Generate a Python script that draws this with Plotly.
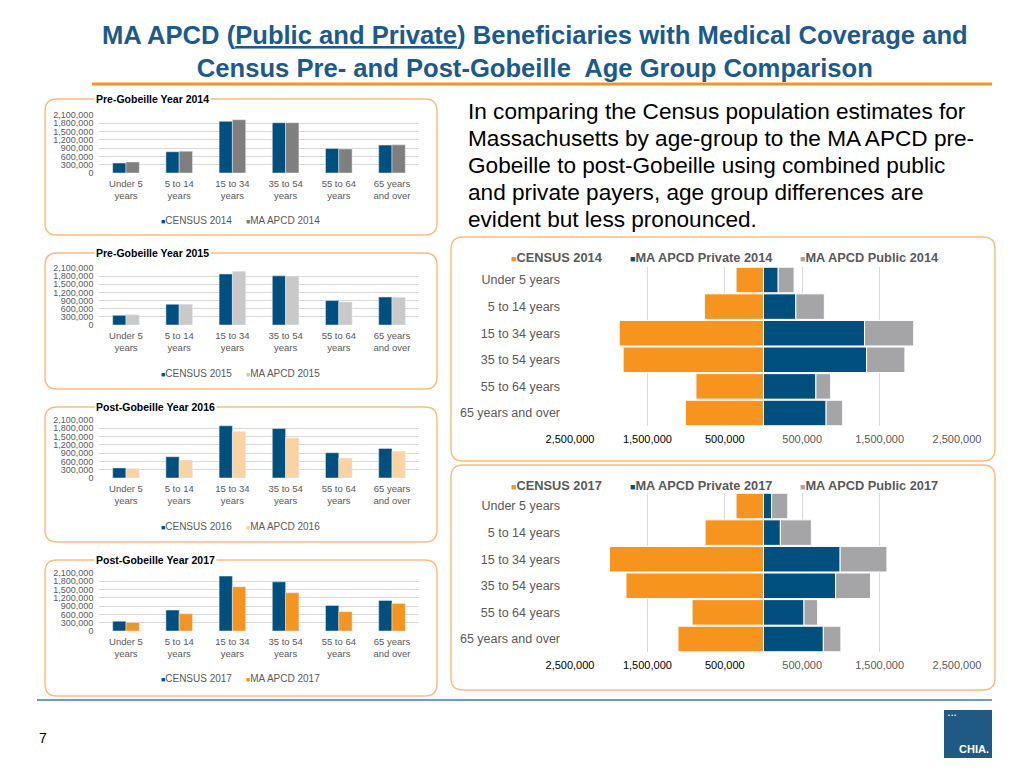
import plotly.graph_objects as go

W, H = 1024, 768
OFF = 8  # page body margin of the browser


def px(x):
    return (x - OFF) / W


def py(y):
    return 1 - (y - OFF) / H


# ---------------- data ----------------
age_groups = ["Under 5 years", "5 to 14 years", "15 to 34 years",
              "35 to 54 years", "55 to 64 years", "65 years and over"]
bar_tick_labels = ["Under 5<br>years", "5 to 14<br>years", "15 to 34<br>years",
                   "35 to 54<br>years", "55 to 64<br>years", "65 years<br>and over"]

census_2014 = [360000, 770000, 1870000, 1820000, 890000, 1010000]
apcd_2014 = [400000, 790000, 1930000, 1820000, 870000, 1020000]
census_2015 = [355000, 765000, 1880000, 1810000, 900000, 1030000]
apcd_2015 = [375000, 765000, 1980000, 1800000, 850000, 1020000]
census_2016 = [365000, 770000, 1890000, 1790000, 915000, 1070000]
apcd_2016 = [345000, 650000, 1680000, 1450000, 720000, 965000]
census_2017 = [355000, 757000, 1990000, 1780000, 925000, 1105000]
apcd_2017 = [312000, 625000, 1600000, 1385000, 700000, 1000000]

pyr_census_2014 = [355000, 764000, 1864000, 1814000, 873000, 1009000]
pyr_private_2014 = [190000, 418000, 1305000, 1332000, 677000, 809000]
pyr_public_2014 = [205000, 368000, 636000, 495000, 190000, 214000]
pyr_census_2017 = [355000, 755000, 1990000, 1777000, 923000, 1105000]
pyr_private_2017 = [105000, 218000, 990000, 932000, 523000, 773000]
pyr_public_2017 = [209000, 400000, 605000, 450000, 177000, 227000]

bar_yticks = [0, 300000, 600000, 900000, 1200000, 1500000, 1800000, 2100000]
pyr_left_ticks = [-2500000, -1500000, -500000]
pyr_right_ticks = [500000, 1500000, 2500000]
pyr_left_labels = ["2,500,000", "1,500,000", "500,000"]
pyr_right_labels = ["500,000", "1,500,000", "2,500,000"]

paragraph_lines = [
    "In comparing the Census population estimates for",
    "Massachusetts by age-group to the MA APCD pre-",
    "Gobeille to post-Gobeille using combined public",
    "and private payers, age group differences are",
    "evident but less pronounced.",
]

# ---------------- styles ----------------
FONT = "Arial, Liberation Sans, sans-serif"
BLUE = "#00507F"
ORANGE = "#F7941E"
GRAY_PUB = "#A5A5A7"
TXT_GRAY = "#595959"
GRID = "#D9D9D9"
BOX = "#F9BE7C"

fig = go.Figure()

small_charts = [
    dict(title="Pre-Gobeille Year 2014", census=census_2014, apcd=apcd_2014,
         cname="CENSUS 2014", aname="MA APCD 2014", acolor="#7F7F7F",
         y0=173, y1=115, box=(45, 99, 437, 235), ly=220),
    dict(title="Pre-Gobeille Year 2015", census=census_2015, apcd=apcd_2015,
         cname="CENSUS 2015", aname="MA APCD 2015", acolor="#C9C9C9",
         y0=325, y1=268, box=(45, 253, 437, 389), ly=373),
    dict(title="Post-Gobeille Year 2016", census=census_2016, apcd=apcd_2016,
         cname="CENSUS 2016", aname="MA APCD 2016", acolor="#FAD3A3",
         y0=478, y1=420, box=(45, 407, 437, 542), ly=526),
    dict(title="Post-Gobeille Year 2017", census=census_2017, apcd=apcd_2017,
         cname="CENSUS 2017", aname="MA APCD 2017", acolor=ORANGE,
         y0=631, y1=573, box=(45, 560, 437, 696), ly=678),
]

shapes = []
annotations = []


def rounded_box(x0, y0, x1, y1, r=12, color=BOX, width=1.5):
    X = lambda v: f"{px(v):.5f}"
    Y = lambda v: f"{py(v):.5f}"
    path = (f"M {X(x0 + r)},{Y(y0)} L {X(x1 - r)},{Y(y0)} Q {X(x1)},{Y(y0)} {X(x1)},{Y(y0 + r)} "
            f"L {X(x1)},{Y(y1 - r)} Q {X(x1)},{Y(y1)} {X(x1 - r)},{Y(y1)} "
            f"L {X(x0 + r)},{Y(y1)} Q {X(x0)},{Y(y1)} {X(x0)},{Y(y1 - r)} "
            f"L {X(x0)},{Y(y0 + r)} Q {X(x0)},{Y(y0)} {X(x0 + r)},{Y(y0)} Z")
    return dict(type="path", xref="paper", yref="paper", path=path,
                line=dict(color=color, width=width), fillcolor="rgba(0,0,0,0)", layer="below")


def legend_item(x, y, color, label, size, bold=False, sq=7):
    txt = f"<b>{label}</b>" if bold else label
    return dict(text=f'<span style="color:{color};font-size:{sq}px">■</span>{txt}',
                xref="paper", yref="paper", x=px(x), y=py(y), xanchor="left", yanchor="middle",
                showarrow=False, font=dict(size=size, color=TXT_GRAY, family=FONT))


layout_axes = {}
ax = 1
for i, c in enumerate(small_charts):
    xa = "x" if ax == 1 else f"x{ax}"
    ya = "y" if ax == 1 else f"y{ax}"
    fig.add_trace(go.Bar(x=age_groups, y=c["census"], name=c["cname"], marker_color=BLUE,
                         offset=-0.25, width=0.25, xaxis=xa, yaxis=ya, showlegend=False,
                         hoverinfo="skip"))
    fig.add_trace(go.Bar(x=age_groups, y=c["apcd"], name=c["aname"], marker_color=c["acolor"],
                         offset=0.0, width=0.25, xaxis=xa, yaxis=ya, showlegend=False,
                         hoverinfo="skip"))
    kx = "xaxis" if ax == 1 else f"xaxis{ax}"
    ky = "yaxis" if ax == 1 else f"yaxis{ax}"
    layout_axes[kx] = dict(domain=[px(99.4), px(418.6)], anchor=ya, type="category",
                           categoryarray=age_groups, tickvals=age_groups, ticktext=bar_tick_labels,
                           tickfont=dict(size=9.5, color=TXT_GRAY, family=FONT),
                           showgrid=False, showline=False, ticks="", zeroline=False,
                           automargin=False, ticklabelstandoff=3)
    layout_axes[ky] = dict(domain=[py(c["y0"]), py(c["y1"])], anchor=xa, range=[0, 2100000],
                           tickvals=bar_yticks, tickformat=",", showgrid=True, gridcolor=GRID,
                           gridwidth=1, zeroline=False, showline=False, ticks="",
                           tickfont=dict(size=9, color=TXT_GRAY, family=FONT),
                           automargin=False, ticklabelstandoff=5)
    annotations.append(legend_item(159, c["ly"], BLUE, c["cname"], 10, sq=7))
    annotations.append(legend_item(244, c["ly"], c["acolor"], c["aname"], 10, sq=7))
    shapes.append(rounded_box(*c["box"]))
    annotations.append(dict(text=f"<b>{c['title']}</b>", xref="paper", yref="paper",
                            x=px(94), y=py(c["box"][1]), xanchor="left", yanchor="middle",
                            showarrow=False, bgcolor="white", borderpad=1,
                            font=dict(size=10.5, color="black", family=FONT)))
    ax += 1

pyramids = [
    dict(census=pyr_census_2014, private=pyr_private_2014, public=pyr_public_2014, year="2014",
         top=266.7, bottom=426.3, box=(451, 237, 995, 461), ly=258),
    dict(census=pyr_census_2017, private=pyr_private_2017, public=pyr_public_2017, year="2017",
         top=492.7, bottom=652.3, box=(451, 465, 995, 690), ly=485),
]

for j, p in enumerate(pyramids):
    xa = f"x{ax}"
    ya = f"y{ax}"
    xa2 = f"x{ax + 1}"
    neg_census = [-v for v in p["census"]]
    fig.add_trace(go.Bar(y=age_groups, x=neg_census, orientation="h",
                         name=f"CENSUS {p['year']}", marker=dict(color=ORANGE, line=dict(color="white", width=1)),
                         width=0.96, xaxis=xa, yaxis=ya, showlegend=False, hoverinfo="skip"))
    fig.add_trace(go.Bar(y=age_groups, x=p["private"], orientation="h",
                         name=f"MA APCD Private {p['year']}", marker=dict(color=BLUE, line=dict(color="white", width=1)),
                         width=0.96, xaxis=xa2, yaxis=ya, showlegend=False, hoverinfo="skip"))
    fig.add_trace(go.Bar(y=age_groups, x=p["public"], base=p["private"], orientation="h",
                         name=f"MA APCD Public {p['year']}", marker=dict(color=GRAY_PUB, line=dict(color="white", width=1)),
                         width=0.96, xaxis=xa2, yaxis=ya, showlegend=False, hoverinfo="skip"))
    layout_axes[f"xaxis{ax}"] = dict(domain=[px(570), px(957)], anchor=ya, range=[-2500000, 2500000],
                                     tickvals=pyr_left_ticks, ticktext=pyr_left_labels,
                                     tickfont=dict(size=11, color="black", family=FONT),
                                     showgrid=True, gridcolor=GRID, zeroline=False, showline=False, ticks="",
                                     automargin=False, ticklabelstandoff=5)
    layout_axes[f"xaxis{ax + 1}"] = dict(domain=[px(570), px(957)], anchor=ya, overlaying=xa,
                                         range=[-2500000, 2500000], side="bottom",
                                         tickvals=pyr_right_ticks, ticktext=pyr_right_labels,
                                         tickfont=dict(size=11, color=TXT_GRAY, family=FONT),
                                         showgrid=True, gridcolor=GRID, zeroline=False, showline=False, ticks="",
                                         automargin=False, ticklabelstandoff=5)
    layout_axes[f"yaxis{ax}"] = dict(domain=[py(p["bottom"]), py(p["top"])], anchor=xa, type="category",
                                     categoryarray=age_groups, autorange="reversed",
                                     tickfont=dict(size=12.5, color=TXT_GRAY, family=FONT),
                                     showgrid=False, zeroline=False, showline=False, ticks="",
                                     automargin=False, ticklabelstandoff=9)
    annotations.append(legend_item(509, p["ly"], ORANGE, f"CENSUS {p['year']}", 12.8, bold=True, sq=9))
    annotations.append(legend_item(628, p["ly"], BLUE, f"MA APCD Private {p['year']}", 12.8, bold=True, sq=9))
    annotations.append(legend_item(798, p["ly"], GRAY_PUB, f"MA APCD Public {p['year']}", 12.8, bold=True, sq=9))
    shapes.append(rounded_box(*p["box"]))
    ax += 2

# title, separators, logo
shapes.append(dict(type="line", xref="paper", yref="paper", x0=px(92), x1=px(992), y0=py(84), y1=py(84),
                   line=dict(color=ORANGE, width=3)))
shapes.append(dict(type="line", xref="paper", yref="paper", x0=px(37), x1=px(992), y0=py(700), y1=py(700),
                   line=dict(color="#3B7DB5", width=1.5)))
shapes.append(dict(type="rect", xref="paper", yref="paper", x0=px(944), x1=px(992), y0=py(758), y1=py(710),
                   fillcolor="#1F5A85", line=dict(width=0)))

annotations.append(dict(
    text="<b>MA APCD (<u>Public and Private</u>) Beneficiaries with Medical Coverage and<br>"
         "Census Pre- and Post-Gobeille  Age Group Comparison</b>",
    xref="paper", yref="paper", x=px(535), y=py(51), xanchor="center", yanchor="middle",
    showarrow=False, align="center", font=dict(size=25.6, color="#1A5A8C", family=FONT)))
for k, line in enumerate(paragraph_lines):
    annotations.append(dict(
        text=line, xref="paper", yref="paper", x=px(466), y=py(112 + 26.8 * k),
        xanchor="left", yanchor="middle", showarrow=False, align="left",
        font=dict(size=22.6, color="black", family=FONT)))
annotations.append(dict(text="7", xref="paper", yref="paper", x=px(43), y=py(738), xanchor="center",
                        yanchor="middle", showarrow=False, font=dict(size=14, color="black", family=FONT)))
annotations.append(dict(text="<b>CHIA.</b>", xref="paper", yref="paper", x=px(991), y=py(749), xanchor="right",
                        yanchor="middle", showarrow=False, font=dict(size=11, color="white", family=FONT)))
annotations.append(dict(text="<b>• • •</b>", xref="paper", yref="paper", x=px(946), y=py(715), xanchor="left",
                        yanchor="middle", showarrow=False, font=dict(size=5, color="white", family=FONT)))

fig.update_layout(
    width=W, height=H, margin=dict(l=0, r=0, t=0, b=0, pad=0, autoexpand=False),
    paper_bgcolor="white", plot_bgcolor="white",
    barmode="overlay", showlegend=False,
    font=dict(family=FONT),
    shapes=shapes, annotations=annotations,
    **layout_axes,
)

fig.write_html("out.html")
